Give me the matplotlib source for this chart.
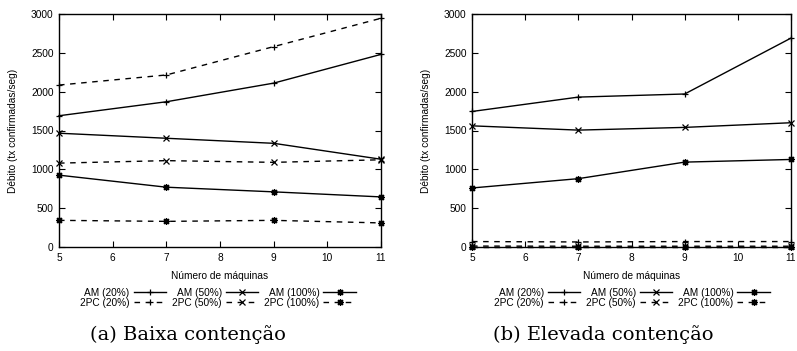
import matplotlib
matplotlib.use("Agg")
import matplotlib.pyplot as plt

machines = [5, 7, 9, 11]

# (a) Baixa contenção
low_am20 = [1690, 1870, 2110, 2480]
low_am50 = [1465, 1400, 1335, 1130]
low_am100 = [925, 770, 710, 645]
low_2pc20 = [2085, 2215, 2580, 2945]
low_2pc50 = [1080, 1112, 1090, 1123]
low_2pc100 = [343, 330, 343, 310]

# (b) Elevada contenção
high_am20 = [1745, 1930, 1970, 2690]
high_am50 = [1560, 1505, 1540, 1600]
high_am100 = [760, 880, 1093, 1127]
high_2pc20 = [70, 65, 70, 70]
high_2pc50 = [12, 10, 10, 10]
high_2pc100 = [5, 5, 5, 5]

labels = ["AM (20%)", "2PC (20%)", "AM (50%)", "2PC (50%)", "AM (100%)", "2PC (100%)"]
yticks = [0, 500, 1000, 1500, 2000, 2500, 3000]
xticks = [5, 6, 7, 8, 9, 10, 11]
captions = ["(a) Baixa contenção", "(b) Elevada contenção"]
ylabel = "Débito (tx confirmadas/seg)"
xlabel = "Número de máquinas"

plt.rcParams['font.family'] = ['Liberation Sans', 'DejaVu Sans']
fig = plt.figure(figsize=(7.97, 3.51), dpi=100)

star = (8, 2, 0)
markers = ['+', '+', 'x', 'x', star, star]
styles = ['-', (0, (4, 4)), '-', (0, (4, 4)), '-', (0, (4, 4))]

axes_pos = [[59/797, 1-247/351, 322/797, 233/351],
            [472/797, 1-247/351, 319/797, 233/351]]
leg_x = [0.2735, 0.793]
cap_x = [0.236, 0.757]
datasets = [
    [low_am20, low_2pc20, low_am50, low_2pc50, low_am100, low_2pc100],
    [high_am20, high_2pc20, high_am50, high_2pc50, high_am100, high_2pc100],
]
fs = 7.3

for i in range(2):
    ax = fig.add_axes(axes_pos[i])
    handles = []
    for series, m, ls, lab in zip(datasets[i], markers, styles, labels):
        h, = ax.plot(machines, series, color='black', lw=1.0, linestyle=ls,
                     marker=m, markersize=5, markeredgewidth=0.9,
                     label=lab, clip_on=False)
        handles.append(h)
    ax.set_xlim(5, 11)
    ax.set_ylim(0, 3000)
    ax.set_xticks(xticks)
    ax.set_yticks(yticks)
    ax.tick_params(direction='in', top=True, right=True, labelsize=fs,
                   length=4, width=0.8, pad=4, colors='black')
    for s in ax.spines.values():
        s.set_linewidth(1.0)
    ax.set_ylabel(ylabel, fontsize=fs, labelpad=9)
    ax.set_xlabel(xlabel, fontsize=fs, labelpad=6)
    leg = fig.legend(handles=handles, labels=labels, ncol=3, markerfirst=False,
                     loc='center', bbox_to_anchor=(leg_x[i], 0.151),
                     frameon=False, fontsize=fs, handlelength=3.2,
                     labelspacing=0.0, columnspacing=0.6, handletextpad=0.4,
                     borderpad=0)
    for t in leg.get_texts():
        t.set_ha('right')
    fig.text(cap_x[i], 0.046, captions[i], ha='center', va='center',
             fontsize=14, family=['DejaVu Serif'])

fig.savefig("out.png", dpi=100)
